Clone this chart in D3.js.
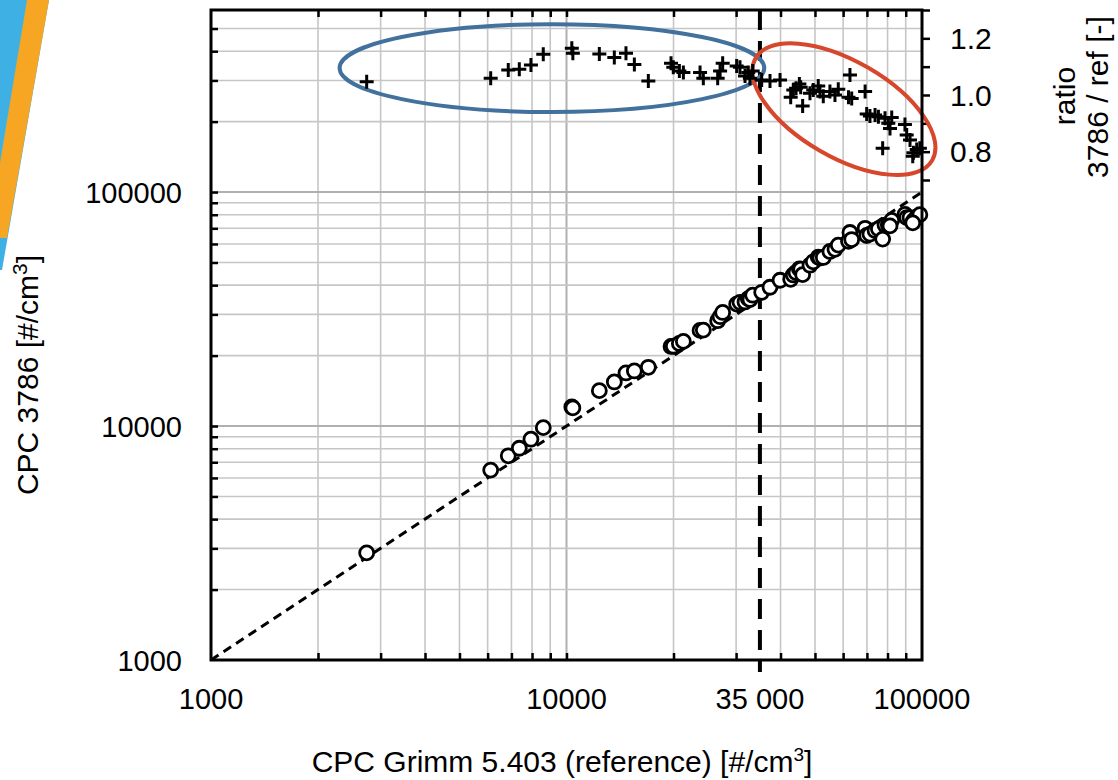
<!DOCTYPE html>
<html>
<head>
<meta charset="utf-8">
<script src="https://cdn.jsdelivr.net/npm/d3@7"></script>
<style>
  body { margin: 0; background: #fff; }
  text { font-family: "Liberation Sans", Arial, sans-serif; fill: #000; }
</style>
</head>
<body>
<div id="area"></div>
<script>
var refCounts = [2741, 6120, 6858, 7366, 7943, 8603, 10350, 10420, 12370, 13630,
  14700, 15520, 16990, 19680, 19970, 20770, 21320, 23750, 24260, 26620,
  27040, 27500, 30110, 30760, 31780, 32460, 32810, 33400, 35400, 37360,
  39870, 42720, 43450, 44230, 45190, 45580, 46160, 48400, 49440, 51070,
  51640, 52760, 55080, 56910, 58140, 62120, 62710, 63420, 69180, 69890,
  71380, 73780, 75400, 77510, 78700, 80400, 82200, 81280, 89540, 90560,
  92540, 94580, 96630, 98620, 94180];
var ratios = [1.047, 1.059, 1.088, 1.091, 1.106, 1.144, 1.165, 1.147, 1.145, 1.132,
  1.147, 1.108, 1.049, 1.112, 1.098, 1.085, 1.079, 1.079, 1.059, 1.059,
  1.085, 1.112, 1.102, 1.098, 1.067, 1.079, 1.059, 1.085, 1.053, 1.049,
  1.053, 0.992, 1.018, 1.024, 1.039, 1.027, 0.961, 1.006, 1.018, 1.032,
  1.012, 0.996, 1.012, 1.000, 1.020, 0.992, 1.071, 0.988, 1.012, 0.933,
  0.926, 0.929, 0.923, 0.812, 0.918, 0.900, 0.921, 0.882, 0.896, 0.859,
  0.841, 0.796, 0.808, 0.812, 0.784];

var xTickValues = [1000, 10000, 35000, 100000];
var xTickLabels = ["1000", "10000", "35 000", "100000"];
var yTickValues = [1000, 10000, 100000];
var yTickLabels = ["1000", "10000", "100000"];
var ratioTicks = [0.7, 0.8, 0.9, 1.0, 1.1, 1.2, 1.3];
var ratioLabels = [0.8, 1.0, 1.2];
var cutoff = 35000;

var margin = {top: 10, left: 211},
  width = 711,
  height = 650;

var svg = d3.select('#area').append('svg')
  .attr('width', 1118)
  .attr('height', 780);

// corner decoration
svg.append('path')
  .attr('d', 'M0,0L49,0L2,270L0,270Z')
  .attr('fill', '#3fb0e4');
svg.append('path')
  .attr('d', 'M27,0L49,0L7,238L0,238L0,163Z')
  .attr('fill', '#f6a623');

var g = svg.append('g')
  .attr('transform', 'translate(' + margin.left + ',' + margin.top + ')');

var x = d3.scaleLog().domain([1000, 100000]).range([0, width]);
var y = d3.scaleLog().domain([1000, 600000]).range([height, 0]);
var r = d3.scaleLinear().domain([0.7, 1.3]).range([170, 0]);

var points = refCounts.map(function(d, i) {
  return {ref: d, ratio: ratios[i], cpc: d * ratios[i]};
});

// grid
var xMinor = x.ticks().filter(function(d) { return d > 1000 && d < 100000; });
var yMinor = y.ticks().filter(function(d) { return d > 1000 && d < 600000; });
var isDecade = function(d) { return Math.abs(Math.log10(d) % 1) < 1e-6; };

g.selectAll('.vgrid').data(xMinor).enter().append('line')
  .attr('class', 'vgrid')
  .attr('x1', function(d) { return x(d); })
  .attr('x2', function(d) { return x(d); })
  .attr('y1', 0).attr('y2', height)
  .attr('stroke', function(d) { return isDecade(d) ? '#b0b0b0' : '#c6c6c6'; })
  .attr('stroke-width', function(d) { return isDecade(d) ? 2 : 1.6; });

g.selectAll('.hgrid').data(yMinor).enter().append('line')
  .attr('class', 'hgrid')
  .attr('y1', function(d) { return y(d); })
  .attr('y2', function(d) { return y(d); })
  .attr('x1', 0).attr('x2', width)
  .attr('stroke', function(d) { return isDecade(d) ? '#b0b0b0' : '#c6c6c6'; })
  .attr('stroke-width', function(d) { return isDecade(d) ? 2 : 1.6; });

// inward ticks on all four sides
var tickStyle = function(sel) {
  sel.select('.domain').remove();
  sel.selectAll('.tick line').attr('stroke', '#000').attr('stroke-width', 2.5);
  sel.selectAll('.tick text').remove();
};
g.append('g')
  .attr('transform', 'translate(0,' + height + ')')
  .call(d3.axisBottom(x).tickValues(xMinor).tickSize(-7).tickFormat(''))
  .call(tickStyle);
g.append('g')
  .call(d3.axisTop(x).tickValues(xMinor).tickSize(-7).tickFormat(''))
  .call(tickStyle);
g.append('g')
  .call(d3.axisLeft(y).tickValues(yMinor).tickSize(-7).tickFormat(''))
  .call(tickStyle);

// ratio axis on the right
g.append('g')
  .attr('transform', 'translate(' + width + ',0)')
  .call(d3.axisRight(r).tickValues(ratioTicks).tickSize(8).tickFormat(''))
  .call(tickStyle);

g.selectAll('.rlabel').data(ratioLabels).enter().append('text')
  .attr('class', 'rlabel')
  .attr('x', width + 28)
  .attr('y', function(d) { return r(d) + 10.5; })
  .style('font-size', '30px')
  .text(function(d) { return d3.format('.1f')(d); });

// 1:1 line
g.append('line')
  .attr('x1', x(1000)).attr('y1', y(1000))
  .attr('x2', x(100000)).attr('y2', y(100000))
  .attr('stroke', '#000')
  .attr('stroke-width', 3)
  .attr('stroke-dasharray', '9,6');

// 35 000 cut line
g.append('line')
  .attr('x1', x(cutoff)).attr('x2', x(cutoff))
  .attr('y1', 0).attr('y2', height + 12)
  .attr('stroke', '#000')
  .attr('stroke-width', 4)
  .attr('stroke-dasharray', '20,11');

// annotation ellipses (data coordinates)
var bx0 = x(2300), bx1 = x(36000), by0 = r(1.25), by1 = r(0.94);
g.append('ellipse')
  .attr('cx', (bx0 + bx1) / 2).attr('cy', (by0 + by1) / 2)
  .attr('rx', (bx1 - bx0) / 2).attr('ry', (by1 - by0) / 2)
  .attr('fill', 'none')
  .attr('stroke', '#41719c')
  .attr('stroke-width', 4);

g.append('ellipse')
  .attr('transform', 'translate(' + x(60300) + ',' + r(0.95) + ') rotate(30)')
  .attr('rx', 102).attr('ry', 48)
  .attr('fill', 'none')
  .attr('stroke', '#d6472b')
  .attr('stroke-width', 4);

// circles: CPC 3786 vs reference
g.selectAll('.dot').data(points).enter().append('circle')
  .attr('class', 'dot')
  .attr('cx', function(d) { return x(d.ref); })
  .attr('cy', function(d) { return y(d.cpc); })
  .attr('r', 7)
  .attr('fill', '#fff')
  .attr('stroke', '#000')
  .attr('stroke-width', 2.8);

// crosses: ratio
g.selectAll('.cross').data(points).enter().append('path')
  .attr('class', 'cross')
  .attr('transform', function(d) { return 'translate(' + x(d.ref) + ',' + r(d.ratio) + ')'; })
  .attr('d', 'M-7,0H7M0,-7V7')
  .attr('stroke', '#000')
  .attr('stroke-width', 3);

// frame
g.append('rect')
  .attr('width', width).attr('height', height)
  .attr('fill', 'none')
  .attr('stroke', '#000')
  .attr('stroke-width', 3);

// tick labels
g.selectAll('.xlabel').data(xTickValues).enter().append('text')
  .attr('class', 'xlabel')
  .attr('x', function(d) { return x(d); })
  .attr('y', height + 49)
  .attr('text-anchor', 'middle')
  .style('font-size', '29px')
  .text(function(d, i) { return xTickLabels[i]; });

g.selectAll('.ylabel').data(yTickValues).enter().append('text')
  .attr('class', 'ylabel')
  .attr('x', -29)
  .attr('y', function(d) { return y(d) + 10.5; })
  .attr('text-anchor', 'end')
  .style('font-size', '29px')
  .text(function(d, i) { return yTickLabels[i]; });

// axis titles
var xt = svg.append('text')
  .attr('x', 562).attr('y', 772)
  .attr('text-anchor', 'middle')
  .style('font-size', '30px');
xt.append('tspan').text('CPC Grimm 5.403 (reference) [#/cm');
xt.append('tspan').attr('dy', -11).style('font-size', '19px').text('3');
xt.append('tspan').attr('dy', 11).text(']');

var yt = svg.append('text')
  .attr('transform', 'translate(38,375) rotate(-90)')
  .attr('text-anchor', 'middle')
  .style('font-size', '30px');
yt.append('tspan').text('CPC 3786 [#/cm');
yt.append('tspan').attr('dy', -11).style('font-size', '21px').text('3');
yt.append('tspan').attr('dy', 11).text(']');

svg.append('text')
  .attr('transform', 'translate(1075,96) rotate(-90)')
  .attr('text-anchor', 'middle')
  .style('font-size', '30px')
  .text('ratio');
svg.append('text')
  .attr('transform', 'translate(1108,97) rotate(-90)')
  .attr('text-anchor', 'middle')
  .style('font-size', '30px')
  .text('3786 / ref [-]');
</script>
</body>
</html>
